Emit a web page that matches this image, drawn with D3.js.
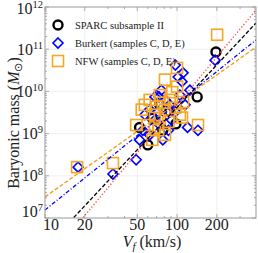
<!DOCTYPE html>
<html>
<head>
<meta charset="utf-8">
<script src="https://cdn.jsdelivr.net/npm/d3@7"></script>
<style>
body { margin: 0; background: #fff; }
svg text { font-family: "Liberation Serif", "Times New Roman", serif; fill: #222; }
</style>
</head>
<body>
<svg id="chart" width="258" height="253"></svg>
<script>
// x: V_f (km/s), y: baryonic mass (Msun)
var sparcV = [197, 142, 60, 98, 78, 65, 88, 52, 74];
var sparcM = [8.6e10, 7.4e9, 5.4e8, 1.7e9, 1.2e9, 2.3e9, 3.3e9, 1.4e9, 4.8e9];

var burkV = [17.8, 32.7, 49, 55, 68, 111, 102, 109, 76, 73, 120, 144, 194, 97,
             62, 81, 88, 68, 74, 86, 97, 105, 62, 57, 91, 115, 72, 52, 78, 125];
var burkM = [1.6e8, 1.1e8, 2.4e8, 1.2e9, 7.4e9, 2.75e10, 2.2e10, 1.7e10, 1.07e10, 7.4e9, 1.4e9, 1.2e9, 5.5e10, 4.2e10,
             3.7e9, 6.3e9, 4.8e9, 2.1e9, 1.6e9, 1.2e9, 3.3e9, 8.2e9, 9.3e8, 2.8e9, 2.1e9, 4.8e9, 3.3e9, 7.1e8, 7.1e8, 1.07e10];

var nfwV = [17.5, 32.7, 201, 49, 54, 70, 81, 100, 111, 109, 144, 100,
            62, 68, 74, 81, 88, 60, 72, 86, 97, 65, 81, 92, 74, 57, 105, 68, 78];
var nfwM = [1.6e8, 2.0e8, 2.2e11, 1.6e9, 3.7e9, 4.3e9, 1.9e10, 1.3e10, 5.6e9, 2.4e9, 1.6e9, 3.6e10,
            6.3e9, 2.8e9, 2.3e9, 3.7e9, 6.3e9, 1.6e9, 1.2e9, 1.9e9, 4.1e9, 7.1e8, 9.3e8, 9.6e9, 8.2e9, 4.8e9, 2.8e9, 1.4e9, 5.4e9];

// fitted relations, mass at the two ends of the x range
var fitV = [10, 396];
var fitBlackM = [1.92e6, 4.17e11];
var fitRedM = [8.43e5, 8.51e11];
var fitBlueM = [1.55e7, 1.66e11];
var fitOrangeM = [3.16e7, 1.12e11];

var xTicks = [10, 20, 50, 100, 200];
var yExps = [7, 8, 9, 10, 11, 12];
var legendLabels = ["SPARC subsample II", "Burkert (samples C, D, E)", "NFW (samples C, D, E)"];

var orange = "#f5a623", blue = "#0000ff";

var svg = d3.select("#chart");
var pl = 45, pr = 256, pt = 7, pb = 218;

var x = d3.scaleLog().domain([10, 396]).range([pl, pr]);
var y = d3.scaleLog().domain([1e7, 1e12]).range([pb, pt]);

svg.append("clipPath").attr("id", "clip")
    .append("rect").attr("x", pl).attr("y", pt)
    .attr("width", pr - pl).attr("height", pb - pt);

// grid
var grid = svg.append("g");
grid.selectAll(".gx").data(xTicks.slice(1)).enter().append("line")
    .attr("x1", function(d) { return x(d); }).attr("x2", function(d) { return x(d); })
    .attr("y1", pt).attr("y2", pb)
    .attr("stroke", "#ececec").attr("stroke-width", 0.8);
grid.selectAll(".gy").data(yExps.slice(1, -1)).enter().append("line")
    .attr("y1", function(d) { return y(Math.pow(10, d)); }).attr("y2", function(d) { return y(Math.pow(10, d)); })
    .attr("x1", pl).attr("x2", pr)
    .attr("stroke", "#ececec").attr("stroke-width", 0.8);

// frame ticks (inside)
var ticks = svg.append("g").attr("stroke", "#999").attr("stroke-width", 0.8);
var minorX = [];
[10, 100].forEach(function(b) { for (var k = 1; k < 10; k++) if (b * k <= 396) minorX.push(b * k); });
minorX.forEach(function(v) {
    var major = xTicks.indexOf(v) >= 0, len = major ? 4 : 2;
    ticks.append("line").attr("x1", x(v)).attr("x2", x(v)).attr("y1", pb).attr("y2", pb - len);
    ticks.append("line").attr("x1", x(v)).attr("x2", x(v)).attr("y1", pt).attr("y2", pt + len);
});
yExps.forEach(function(e) {
    for (var k = 1; k < 10; k++) {
        var v = k * Math.pow(10, e);
        if (v > 1e12) break;
        var len = k == 1 ? 4 : 2;
        ticks.append("line").attr("y1", y(v)).attr("y2", y(v)).attr("x1", pl).attr("x2", pl + len);
        ticks.append("line").attr("y1", y(v)).attr("y2", y(v)).attr("x1", pr).attr("x2", pr - len);
    }
});

// markers
var plot = svg.append("g").attr("clip-path", "url(#clip)");

plot.selectAll(".sparc").data(sparcV).enter().append("circle")
    .attr("cx", function(d) { return x(d); })
    .attr("cy", function(d, i) { return y(sparcM[i]); })
    .attr("r", 4.5)
    .attr("fill", "none").attr("stroke", "#000").attr("stroke-width", 2.4);

plot.selectAll(".burk").data(burkV).enter().append("path")
    .attr("d", "M0,-5L5,0L0,5L-5,0Z")
    .attr("transform", function(d, i) { return "translate(" + x(d) + "," + y(burkM[i]) + ")"; })
    .attr("fill", "none").attr("stroke", blue).attr("stroke-width", 1.6);

plot.selectAll(".nfw").data(nfwV).enter().append("rect")
    .attr("x", function(d) { return x(d) - 5.5; })
    .attr("y", function(d, i) { return y(nfwM[i]) - 5.5; })
    .attr("width", 11).attr("height", 11)
    .attr("fill", "none").attr("stroke", orange).attr("stroke-width", 1.6);

// fit lines
var line = d3.line().x(function(d) { return x(d[0]); }).y(function(d) { return y(d[1]); });
function fit(m, col, dash) {
    plot.append("path").datum(d3.zip(fitV, m)).attr("d", line)
        .attr("fill", "none").attr("stroke", col).attr("stroke-width", 1.3)
        .attr("stroke-dasharray", dash);
}
fit(fitOrangeM, "#f39c12", "4,2");
fit(fitBlueM, blue, "4,2,1,2");
fit(fitRedM, "#ff4a4a", "1.3,2");
fit(fitBlackM, "#000", "4,2");

// frame
svg.append("rect").attr("x", pl).attr("y", pt)
    .attr("width", pr - pl).attr("height", pb - pt)
    .attr("fill", "none").attr("stroke", "#999").attr("stroke-width", 1);

// tick labels
svg.selectAll(".xl").data(xTicks).enter().append("text")
    .attr("x", function(d, i) { return x(d) + (i == 0 ? 6 : 0); })
    .attr("y", 230)
    .attr("text-anchor", "middle")
    .style("font-size", "16px")
    .text(function(d) { return d; });

var yl = svg.selectAll(".yl").data(yExps).enter().append("text")
    .attr("x", 43)
    .attr("y", function(d, i) { return y(Math.pow(10, d)) + 5.5 - (i == 0 ? 7 : 0) + (i == yExps.length - 1 ? 1.5 : 0); })
    .attr("text-anchor", "end")
    .style("font-size", "16px");
yl.append("tspan").text("10");
yl.append("tspan").attr("dy", -6).style("font-size", "10.5px").text(function(d) { return d; });

// axis titles
var xt = svg.append("text").attr("x", 152).attr("y", 247)
    .attr("text-anchor", "middle").style("font-size", "16px");
xt.append("tspan").style("font-style", "italic").text("V");
xt.append("tspan").attr("dy", 3).style("font-size", "11px").style("font-style", "italic").text("f");
xt.append("tspan").attr("dy", -3).text(" (km/s)");

var yt = svg.append("text").attr("transform", "translate(19,123) rotate(-90)")
    .attr("text-anchor", "middle").style("font-size", "16px");
yt.append("tspan").text("Baryonic mass (");
yt.append("tspan").style("font-style", "italic").text("M");
yt.append("tspan").attr("dy", 3).style("font-size", "11px").text("\u2299");
yt.append("tspan").attr("dy", -3).text(")");

// legend
var leg = svg.append("g");
leg.append("circle").attr("cx", 58).attr("cy", 25).attr("r", 4.5)
    .attr("fill", "none").attr("stroke", "#000").attr("stroke-width", 2.4);
leg.append("path").attr("d", "M0,-5L5,0L0,5L-5,0Z").attr("transform", "translate(58,43)")
    .attr("fill", "none").attr("stroke", blue).attr("stroke-width", 1.6);
leg.append("rect").attr("x", 52.5).attr("y", 55.5).attr("width", 11).attr("height", 11)
    .attr("fill", "none").attr("stroke", orange).attr("stroke-width", 1.6);
leg.selectAll("text").data(legendLabels).enter().append("text")
    .attr("x", 75).attr("y", function(d, i) { return 29 + 18 * i; })
    .style("font-size", "10.5px")
    .text(function(d) { return d; });
</script>
</body>
</html>
